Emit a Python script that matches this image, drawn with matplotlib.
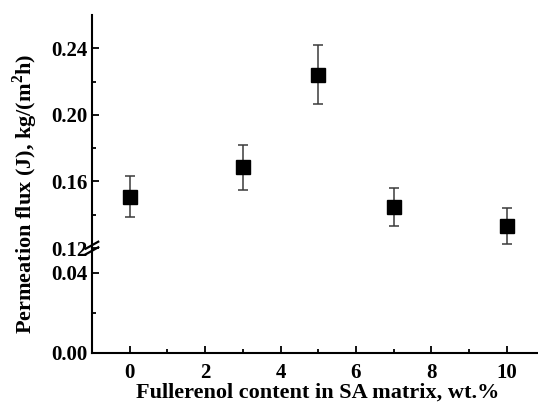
import matplotlib
matplotlib.use("Agg")
from matplotlib import pyplot as plt
from matplotlib.ticker import MultipleLocator
import numpy as np

plt.rcParams["font.family"] = ["Liberation Serif", "DejaVu Serif"]
plt.rcParams["font.weight"] = "bold"
plt.rcParams["mathtext.fontset"] = "custom"
plt.rcParams["mathtext.bf"] = "Liberation Serif:bold"
plt.rcParams["mathtext.rm"] = "Liberation Serif:bold"

# data
content = [0, 3, 5, 7, 10]
flux = [0.1508, 0.1684, 0.2242, 0.1448, 0.1334]
flux_err = [0.0122, 0.0135, 0.0177, 0.0115, 0.0107]

xlabel = "Fullerenol content in SA matrix, wt.%"
ylabel = r"Permeation flux (J), kg/(m$^{\mathbf{2}}$h)"

W, H = 538, 412
fig = plt.figure(figsize=(W / 100, H / 100), dpi=100)

left = 92 / W
bottom = (H - 353) / H
brk = (H - 248) / H
top = (H - 15) / H

ax_lo = fig.add_axes([left, bottom, 1 - left, brk - bottom])
ax_hi = fig.add_axes([left, brk, 1 - left, top - brk], sharex=ax_lo)


def style(ax):
    for s in ("top", "right"):
        ax.spines[s].set_visible(False)
    for s in ("left", "bottom"):
        ax.spines[s].set_linewidth(1.5)
    ax.tick_params(which="both", direction="in", width=1.3, labelsize=15)
    ax.tick_params(which="major", length=5)
    ax.tick_params(which="minor", length=3)


for ax in (ax_lo, ax_hi):
    ax.errorbar(content, flux, yerr=flux_err, fmt="s", color="black",
                markersize=10.5, ecolor="#3a3a3a", elinewidth=1.1,
                capsize=3.5, capthick=1.1)
    style(ax)

ax_hi.spines["bottom"].set_visible(False)
ax_hi.tick_params(axis="x", which="both", bottom=False, labelbottom=False)
ax_lo.tick_params(axis="x", which="major", pad=7)

ax_lo.set_xlim(-1, 10.83)
ax_lo.xaxis.set_major_locator(MultipleLocator(2))
ax_lo.xaxis.set_minor_locator(MultipleLocator(1))

ax_lo.set_ylim(0, 0.0525)
ax_lo.yaxis.set_major_locator(MultipleLocator(0.04))
ax_lo.yaxis.set_minor_locator(MultipleLocator(0.02))
ax_lo.yaxis.set_major_formatter(plt.FormatStrFormatter("%.2f"))

ax_hi.set_ylim(0.12, 0.26)
ax_hi.set_yticks([0.12, 0.16, 0.20, 0.24])
ax_hi.set_yticks([0.14, 0.18, 0.22], minor=True)
ax_hi.yaxis.set_major_formatter(plt.FormatStrFormatter("%.2f"))

# break marks on the y axis
for dy in (-0.012, 0.012):
    ax_hi.plot([-0.014, 0.014], [dy - 0.015, dy + 0.015],
               transform=ax_hi.transAxes, color="black", lw=1.6, clip_on=False)

fig.text(0.59, 0.046, xlabel, ha="center", va="center",
         fontsize=16, fontweight="bold")
fig.text(0.047, 0.53, ylabel, ha="center", va="center", rotation=90,
         fontsize=16, fontweight="bold")

fig.savefig("out.png", dpi=100)
